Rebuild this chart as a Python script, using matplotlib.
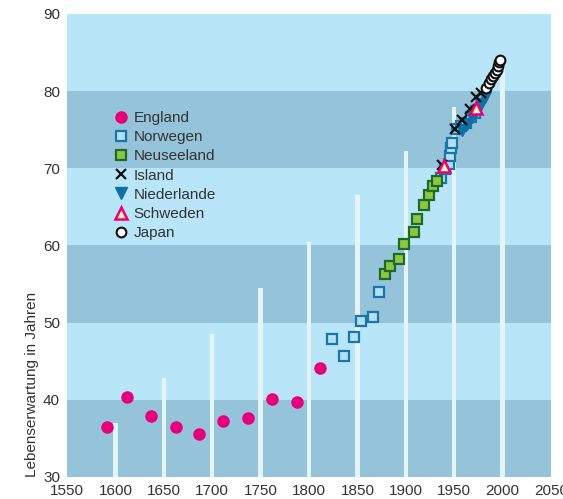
import matplotlib
matplotlib.use("Agg")
import matplotlib.pyplot as plt
from matplotlib.lines import Line2D

plt.rcParams['font.family'] = ['Liberation Sans', 'DejaVu Sans']

# ---- data ----
bar_years = [1600, 1650, 1700, 1750, 1800, 1850, 1900, 1950, 2000]
bar_tops = [37.0, 42.8, 48.5, 54.5, 60.5, 66.5, 72.3, 78.0, 83.6]

england_x = [1591, 1612, 1637, 1663, 1686, 1711, 1737, 1762, 1788, 1811]
england_y = [36.5, 40.4, 37.9, 36.5, 35.6, 37.2, 37.7, 40.1, 39.7, 44.1]

norway_x = [1824, 1836, 1846, 1854, 1866, 1872, 1936, 1941, 1945, 1946, 1947, 1948, 1953, 1957, 1962, 1967, 1972]
norway_y = [47.9, 45.7, 48.2, 50.2, 50.7, 54.0, 68.8, 69.9, 70.5, 71.6, 72.6, 73.3, 75.1, 75.5, 75.9, 76.6, 77.2]

nz_x = [1878, 1884, 1893, 1898, 1908, 1912, 1919, 1924, 1928, 1932]
nz_y = [56.3, 57.4, 58.2, 60.2, 61.7, 63.4, 65.3, 66.5, 67.7, 68.3]

iceland_x = [1937, 1951, 1958, 1966, 1973, 1978]
iceland_y = [70.4, 75.1, 76.3, 77.7, 79.2, 79.8]

nl_x = [1958, 1963, 1968, 1973, 1978, 1982]
nl_y = [75.0, 75.8, 76.6, 77.4, 78.4, 79.2]

sweden_x = [1939, 1973]
sweden_y = [70.3, 77.8]

japan_x = [1983, 1986, 1988, 1990, 1992, 1994, 1995, 1996, 1997]
japan_y = [80.4, 81.1, 81.6, 82.0, 82.4, 82.7, 83.3, 83.8, 84.1]

# ---- style ----
light = '#b9e5f8'
dark = '#95c3da'
barc = '#e3f4fb'
pink = '#e6007e'
nblue = '#1a76a9'
txt = '#333333'
FS = 11

fig = plt.figure(figsize=(5.63, 4.99), dpi=100)
ax = fig.add_axes([67/563, 1-477/499, 484/563, 463/499])
ax.set_xlim(1550, 2050)
ax.set_ylim(30, 90)

for i, lo in enumerate(range(30, 90, 10)):
    ax.axhspan(lo, lo+10, color=dark if i % 2 == 0 else light, lw=0, zorder=0)

ax.bar(bar_years, [t-30 for t in bar_tops], bottom=30, width=4.6, color=barc, lw=0, zorder=1)

ax.plot(england_x, england_y, 'o', ms=8, color=pink, mec=pink, zorder=3)
ax.plot(norway_x, norway_y, 's', ms=6.5, mfc='#b5dff2', mec=nblue, mew=1.6, zorder=3)
ax.plot(nz_x, nz_y, 's', ms=7, mfc='#8dc63f', mec='#1d6b2c', mew=1.6, zorder=3)
ax.plot(nl_x, nl_y, 'v', ms=8, color='#106fa3', zorder=3)
ax.plot(iceland_x, iceland_y, 'x', ms=7, mec='#111111', mew=1.6, zorder=4)
ax.plot(sweden_x, sweden_y, '^', ms=8, mfc='#fdf3a6', mec=pink, mew=1.8, zorder=4)
ax.plot(japan_x, japan_y, 'o', ms=7, mfc='white', mec='#111111', mew=1.5, zorder=5)

for s in ax.spines.values():
    s.set_visible(False)
ax.set_xticks(range(1550, 2051, 50))
ax.set_yticks(range(30, 91, 10))
ax.tick_params(length=0, labelsize=FS, colors=txt, pad=5)
ax.tick_params(axis='x', pad=5)

ax.text(-0.072, 0.0, 'Lebenserwartung in Jahren', rotation=90, ha='center', va='bottom',
        transform=ax.transAxes, fontsize=FS, color=txt)

handles = [
    Line2D([], [], ls='none', marker='o', ms=8, color=pink, label='England'),
    Line2D([], [], ls='none', marker='s', ms=6.5, mfc='#b5dff2', mec=nblue, mew=1.6, label='Norwegen'),
    Line2D([], [], ls='none', marker='s', ms=7, mfc='#8dc63f', mec='#1d6b2c', mew=1.6, label='Neuseeland'),
    Line2D([], [], ls='none', marker='x', ms=7, mec='#111111', mew=1.6, label='Island'),
    Line2D([], [], ls='none', marker='v', ms=8, color='#106fa3', label='Niederlande'),
    Line2D([], [], ls='none', marker='^', ms=8, mfc='#fdf3a6', mec=pink, mew=1.8, label='Schweden'),
    Line2D([], [], ls='none', marker='o', ms=7, mfc='white', mec='#111111', mew=1.5, label='Japan'),
]
leg = ax.legend(handles=handles, loc='upper left', bbox_to_anchor=((115-67)/484, 1-(111-14)/463),
                frameon=False, handlelength=0.8, handletextpad=0.4, labelspacing=0.34,
                fontsize=FS, borderaxespad=0, borderpad=0)
for t in leg.get_texts():
    t.set_color(txt)

fig.savefig('out.png', dpi=100)
